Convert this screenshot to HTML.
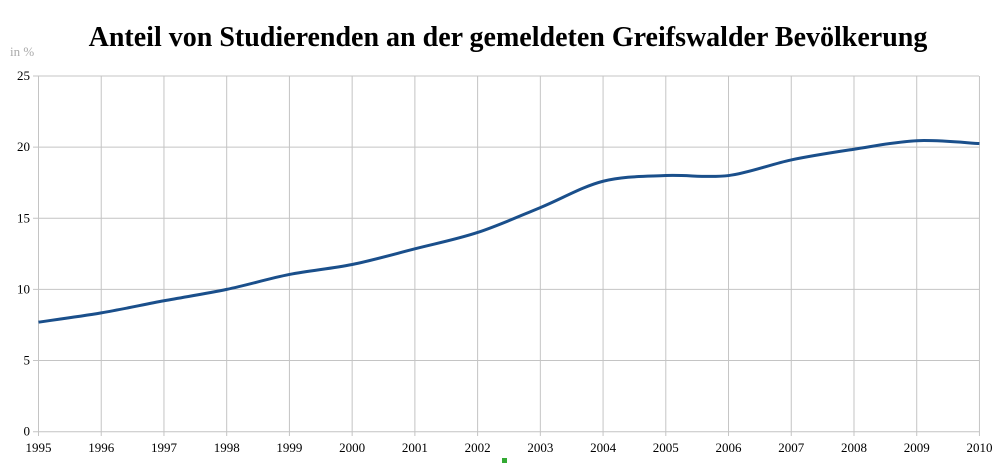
<!DOCTYPE html>
<html><head><meta charset="utf-8"><style>
body{margin:0;background:#fff;width:1000px;height:463px;overflow:hidden}
svg text{font-family:"Liberation Serif",serif}
</style></head><body>
<svg id="s" width="1000" height="463" xmlns="http://www.w3.org/2000/svg">
<text x="508" y="46" text-anchor="middle" font-size="28" font-weight="bold" fill="#000">Anteil von Studierenden an der gemeldeten Greifswalder Bevölkerung</text>
<text x="10" y="56" font-size="13" fill="#aaa">in %</text>
<g id="grid" stroke="#c4c4c4" stroke-width="1"></g>
<g id="lab" font-size="13" fill="#000"></g>
<path id="line" fill="none" stroke="#1a4f8b" stroke-width="3"/>
<rect x="502" y="458" width="5" height="5" fill="#3a3" />
</svg>
<script>
var x0=38.5,dx=62.73,y0=431.7,sy=14.23;
var g=document.getElementById('grid'),l=document.getElementById('lab'),ns='http://www.w3.org/2000/svg';
function el(p,t,a,txt){var e=document.createElementNS(ns,t);for(var k in a)e.setAttribute(k,a[k]);if(txt!=null)e.textContent=txt;p.appendChild(e);}
for(var i=0;i<=15;i++){var x=x0+dx*i;el(g,'line',{x1:x,x2:x,y1:76,y2:436});el(l,'text',{x:x,y:452,'text-anchor':'middle'},1995+i);}
for(var v=0;v<=25;v+=5){var y=y0-v*sy;el(g,'line',{x1:33,x2:979,y1:y,y2:y});el(l,'text',{x:30,y:y+4,'text-anchor':'end'},v);}
var d=[7.7,8.35,9.2,10.0,11.05,11.75,12.85,14.0,15.75,17.6,18.0,18.0,19.1,19.85,20.45,20.25];
var P=d.map(function(v,i){return [x0+dx*i,y0-v*sy]});
var s='M'+P[0][0]+','+P[0][1];
for(var i=0;i<P.length-1;i++){var a=P[i>0?i-1:0],b=P[i],c=P[i+1],e=P[i+2<P.length?i+2:i+1];
s+=' C'+(b[0]+(c[0]-a[0])/6)+','+(b[1]+(c[1]-a[1])/6)+' '+(c[0]-(e[0]-b[0])/6)+','+(c[1]-(e[1]-b[1])/6)+' '+c[0]+','+c[1];}
document.getElementById('line').setAttribute('d',s);
</script>
</body></html>
